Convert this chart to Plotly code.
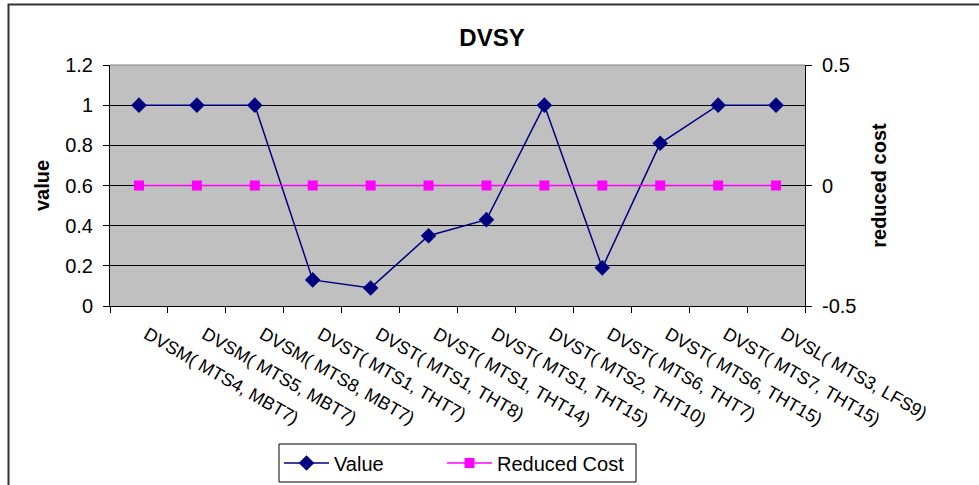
import plotly.graph_objects as go

# Decision variables along the horizontal axis
categories = [
    "DVSM( MTS4, MBT7)",
    "DVSM( MTS5, MBT7)",
    "DVSM( MTS8, MBT7)",
    "DVST( MTS1, THT7)",
    "DVST( MTS1, THT8)",
    "DVST( MTS1, THT14)",
    "DVST( MTS1, THT15)",
    "DVST( MTS2, THT10)",
    "DVST( MTS6, THT7)",
    "DVST( MTS6, THT15)",
    "DVST( MTS7, THT15)",
    "DVSL( MTS3, LFS9)",
]

# Solution value of each variable (left axis)
values = [1, 1, 1, 0.13, 0.09, 0.35, 0.43, 1, 0.19, 0.81, 1, 1]

# Reduced cost of each variable (right axis)
reduced_costs = [0, 0, 0, 0, 0, 0, 0, 0, 0, 0, 0, 0]

left_ticks = [0, 0.2, 0.4, 0.6, 0.8, 1, 1.2]
left_tick_text = ["0", "0.2", "0.4", "0.6", "0.8", "1", "1.2"]
right_ticks = [-0.5, 0, 0.5]
right_tick_text = ["-0.5", "0", "0.5"]

FONT = "Liberation Sans, Arial, sans-serif"

fig = go.Figure()

fig.add_trace(go.Scatter(
    x=categories, y=values, name="Value",
    mode="lines+markers", legend="legend",
    line=dict(color="#000080", width=1.5),
    marker=dict(symbol="diamond", size=12, color="#000080"),
))

fig.add_trace(go.Scatter(
    x=categories, y=reduced_costs, name="Reduced Cost",
    mode="lines+markers", yaxis="y2", legend="legend2",
    line=dict(color="#FF00FF", width=1.5),
    marker=dict(symbol="square", size=10, color="#FF00FF"),
))

# plot area spans roughly 110..805 px horizontally and 65..306 px vertically
L, R, T, B = 110, 174, 65, 179
W, H = 979, 485
pw, ph = W - L - R, H - T - B


def px_x(px):
    return (px - L) / pw


def px_y(py):
    return (H - B - py) / ph


legend_style = dict(
    orientation="h", xanchor="left", yanchor="middle", y=px_y(463),
    bgcolor="rgba(0,0,0,0)", borderwidth=0,
    font=dict(family=FONT, size=20, color="black"),
    itemwidth=45,
)

fig.update_layout(
    width=W, height=H,
    margin=dict(l=L, r=R, t=T, b=B, autoexpand=False),
    paper_bgcolor="white",
    plot_bgcolor="#C0C0C0",
    font=dict(family=FONT, size=18, color="black"),
    title=dict(text="<b>DVSY</b>", x=492 / W, xanchor="center",
               y=1 - 38 / H, yanchor="middle",
               font=dict(family=FONT, size=24, color="black")),
    xaxis=dict(
        type="category", range=[-0.5, len(categories) - 0.5],
        automargin=False,
        tickson="boundaries", ticks="outside", ticklen=6, tickcolor="black",
        showline=True, linecolor="black", linewidth=1,
        showgrid=False, tickangle=30,
        ticklabelshift=8, ticklabelstandoff=10,
        tickfont=dict(family=FONT, size=18, color="black"),
    ),
    yaxis=dict(
        range=[0, 1.2], tickvals=left_ticks, ticktext=left_tick_text,
        automargin=False,
        ticks="outside", ticklen=6, tickcolor="black",
        showline=True, linecolor="black", linewidth=1,
        showgrid=True, gridcolor="black", gridwidth=1,
        zeroline=False, ticklabelstandoff=6,
        tickfont=dict(family=FONT, size=20, color="black"),
        title=dict(text="<b>value</b>", standoff=10,
                   font=dict(family=FONT, size=20, color="black")),
    ),
    yaxis2=dict(
        range=[-0.5, 0.5], tickvals=right_ticks, ticktext=right_tick_text,
        overlaying="y", side="right", automargin=False,
        ticks="outside", ticklen=6, tickcolor="black",
        showline=True, linecolor="black", linewidth=1,
        showgrid=False, zeroline=False, ticklabelstandoff=6,
        tickfont=dict(family=FONT, size=20, color="black"),
        title=dict(text="<b>reduced cost</b>", standoff=16,
                   font=dict(family=FONT, size=20, color="black")),
    ),
    legend=dict(x=px_x(279), **legend_style),
    legend2=dict(x=px_x(442), **legend_style),
    showlegend=True,
    shapes=[
        # top edge of the plot area
        dict(type="line", xref="paper", yref="paper", x0=0, x1=1, y0=1, y1=1,
             line=dict(color="#808080", width=1), layer="above"),
        # legend frame
        dict(type="rect", xref="paper", yref="paper",
             x0=px_x(279), x1=px_x(636), y0=px_y(482), y1=px_y(444),
             line=dict(color="black", width=1), layer="below"),
        # outer chart frame
        dict(type="rect", xref="paper", yref="paper",
             x0=px_x(8.5), x1=px_x(1000), y0=px_y(500), y1=px_y(4.5),
             line=dict(color="#333333", width=2), layer="above"),
    ],
)

fig.write_html("out.html")
